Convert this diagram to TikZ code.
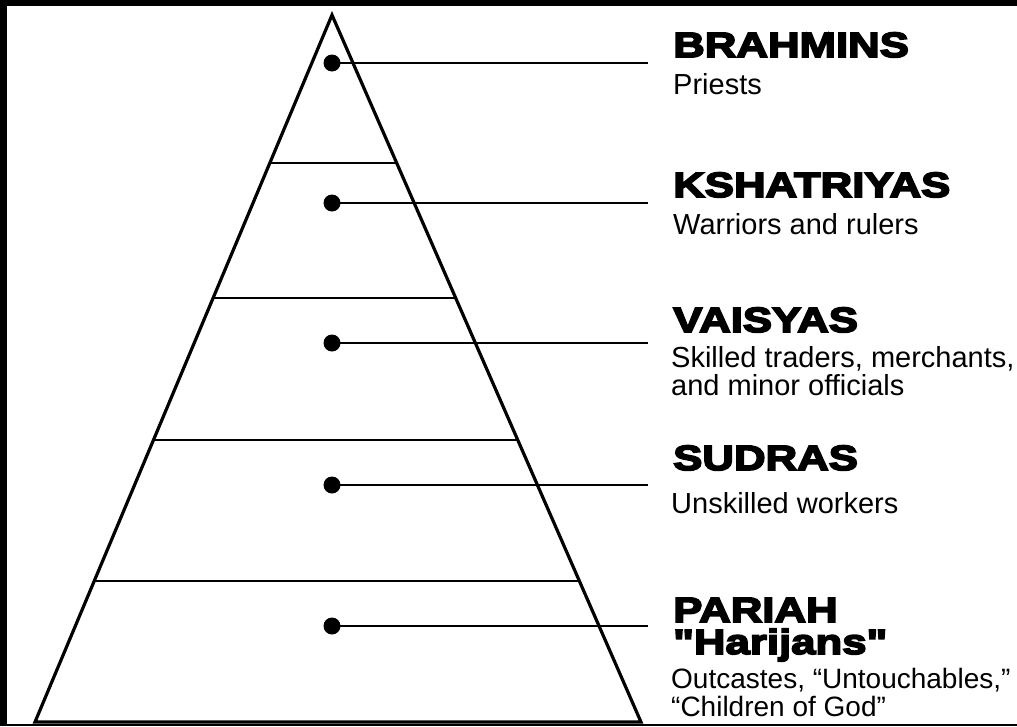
\documentclass[tikz,border=0pt]{standalone}
\usepackage{fontspec}
\usetikzlibrary{calc}
\setmainfont{Liberation Sans}
\newfontfamily\headfont{Liberation Sans}[BoldFeatures={FakeBold=5,FakeStretch=1.25}]
\begin{document}
\begin{tikzpicture}[x=1pt,y=-1pt,
  outline/.style={line width=3.2pt,line join=miter},
  divider/.style={line width=2.6pt},
  leader/.style={line width=2.6pt},
  dot/.style={circle,fill=black,inner sep=0pt,minimum size=17pt},
  heading/.style={anchor=base west,inner sep=0pt,font=\headfont\bfseries\fontsize{35}{34}\selectfont},
  body/.style={anchor=base west,inner sep=0pt,font=\fontsize{29}{28}\selectfont}]
\useasboundingbox (0,0) rectangle (1017,726);
\fill[black] (0,0) rectangle (1017,726);
\fill[white] (7,6) rectangle (1017,724);
% pyramid
\coordinate (apex) at (332,15);
\coordinate (bl) at (35,722);
\coordinate (br) at (641,722);
\draw[outline] (apex) -- (bl) -- (br) -- cycle;
% dividers
\foreach \y [count=\i] in {163,298,440,581}{
  \draw[divider] ($(apex)!{(\y-15)/707}!(bl)$) -- ($(apex)!{(\y-15)/707}!(br)$);
}
% dots and leaders
\foreach \y [count=\i] in {63,203,343,485,626}{
  \node[dot] (d\i) at (332,\y) {};
  \coordinate (e\i) at (648,\y);
  \draw[leader] (d\i.center) -- (e\i);
}
% labels
\node[heading] (h1) at (673,57) {BRAHMINS};
\node[body] (b1) at (673,94) {Priests};
\node[heading] (h2) at (673,197) {KSHATRIYAS};
\node[body] (b2) at (673,234) {Warriors and rulers};
\node[heading] (h3) at (673,332) {VAISYAS};
\node[body] (b3a) at (671,367) {Skilled traders, merchants,};
\node[body] (b3b) at (671,395) {and minor officials};
\node[heading] (h4) at (673,470) {SUDRAS};
\node[body] (b4) at (671,513) {Unskilled workers};
\node[heading] (h5) at (673,622) {PARIAH};
\node[heading] (h5b) at (673,654) {"Harijans"};
\node[body,font=\fontsize{28}{26}\selectfont] (b5a) at (671,688) {Outcastes, “Untouchables,”};
\node[body,font=\fontsize{28}{26}\selectfont] (b5b) at (671,716) {“Children of God”};
\end{tikzpicture}
\end{document}
